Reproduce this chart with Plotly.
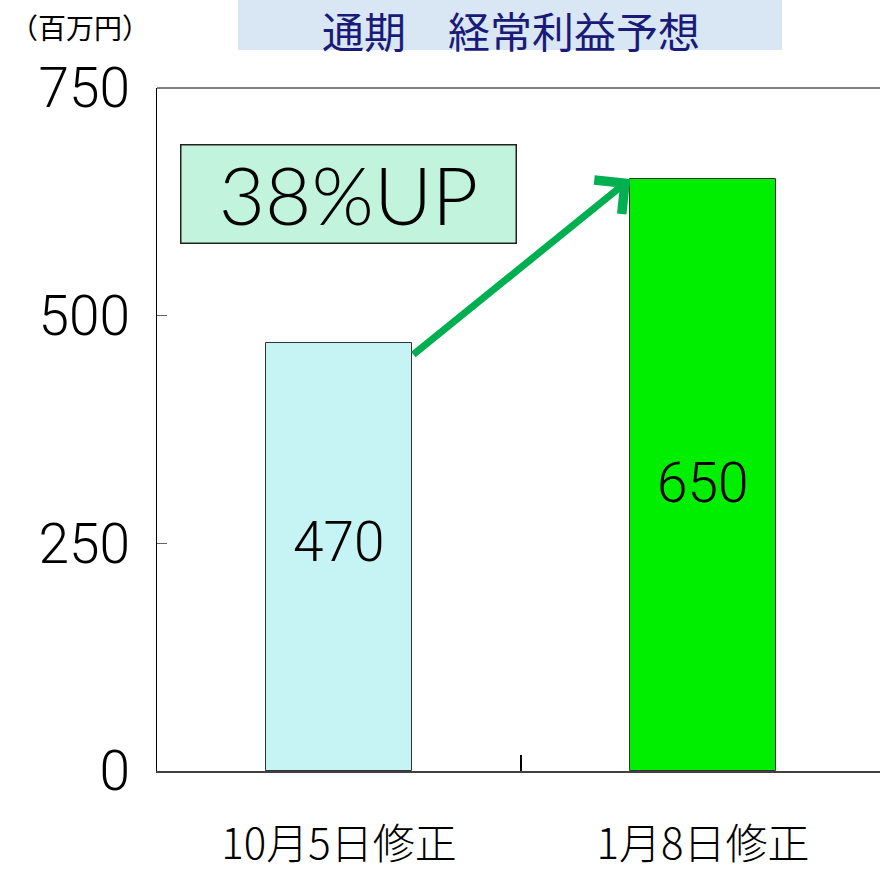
import plotly.graph_objects as go

categories = ["10月5日修正", "1月8日修正"]
values = [470, 650]
y_ticks = [0, 250, 500, 750]
title_text = "通期　経常利益予想"
unit_text = "（百万円）"
badge_text = "38%UP"

bar_colors = ["#c6f4f4", "#00ee00"]
bar_width = 0.4
label_shift = [15, -8]

NUM_FONT = "Roboto, Liberation Sans, sans-serif"

fig = go.Figure()
fig.add_trace(go.Bar(
    x=categories, y=values, width=bar_width,
    marker=dict(color=bar_colors, line=dict(color="#333333", width=1)),
    hoverinfo="skip",
))

W, H = 880, 871
L, T, R = 157, 88, 0
plot_h = 771 - 88
B = H - T - plot_h
plot_w = W - L - R
unit_px = 364.0

fig.update_layout(
    width=W, height=H,
    margin=dict(l=L, r=R, t=T, b=B),
    paper_bgcolor="white", plot_bgcolor="white",
    showlegend=False,
    bargap=0,
    xaxis=dict(
        type="category",
        range=[-0.5, -0.5 + plot_w / unit_px],
        tickson="boundaries", ticks="inside", ticklen=16, tickwidth=2, tickcolor="#000000",
        showline=True, linecolor="#404040", linewidth=2,
        showgrid=False, zeroline=False,
        tickfont=dict(family="Noto Sans CJK JP", size=42, color="#000000", weight=300),
        ticklabelstandoff=36,
    ),
    yaxis=dict(
        range=[0, 750],
        tickvals=y_ticks, ticktext=[str(v) for v in y_ticks],
        ticks="inside", ticklen=10, tickwidth=1, tickcolor="#666666",
        showline=True, linecolor="#000000", linewidth=1,
        showgrid=False, zeroline=False,
        tickfont=dict(family=NUM_FONT, size=55, color="#000000", weight=300),
        ticklabelstandoff=15,
    ),
)

def py(p):
    return (771 - p) / plot_h

def px(p):
    return (p - 157) / plot_w

shapes = [
    dict(type="line", xref="paper", yref="paper", x0=0, x1=1, y0=1, y1=1,
         line=dict(color="#000000", width=1)),
    dict(type="rect", xref="paper", yref="paper", x0=px(238), x1=px(782), y0=py(50), y1=py(0),
         fillcolor="#d9e6f4", line=dict(width=0), layer="below"),
]
fig.update_layout(shapes=shapes)

annotations = [
    dict(text=title_text, xref="paper", yref="paper", x=px(511), y=py(30),
         xanchor="center", yanchor="middle", showarrow=False,
         font=dict(family="Noto Sans CJK JP", size=42, color="#1a1a78")),
    dict(text=unit_text, xref="paper", yref="paper", x=px(80), y=py(27),
         xanchor="center", yanchor="middle", showarrow=False,
         font=dict(family="Noto Sans CJK JP", size=28, color="#000000")),
    dict(text=badge_text, xref="paper", yref="paper", x=px(348), y=py(193.5),
         xanchor="center", yanchor="middle", showarrow=False,
         width=332, height=95, bgcolor="#c2f3dd", bordercolor="#222222", borderwidth=1.5,
         valign="middle",
         font=dict(family="Lato", size=80, color="#000000", weight=300)),
    dict(x=1 - bar_width / 2, y=values[1], xref="x", yref="y",
         ax=bar_width / 2, ay=values[0] - 14, axref="x", ayref="y",
         showarrow=True, arrowhead=4, arrowsize=1.2, arrowwidth=7, arrowcolor="#00b050",
         text=""),
]
for cat, v, s in zip(categories, values, label_shift):
    annotations.append(dict(
        x=cat, y=v / 2, xref="x", yref="y", text=str(v), showarrow=False,
        xanchor="center", yanchor="middle", yshift=s,
        font=dict(family=NUM_FONT, size=55, color="#000000", weight=300),
    ))
fig.update_layout(annotations=annotations)

# remove the default page margin so the figure fills the window exactly
fig.write_html("out.html", config={"displayModeBar": False},
               post_script="document.body.style.margin='0';")
